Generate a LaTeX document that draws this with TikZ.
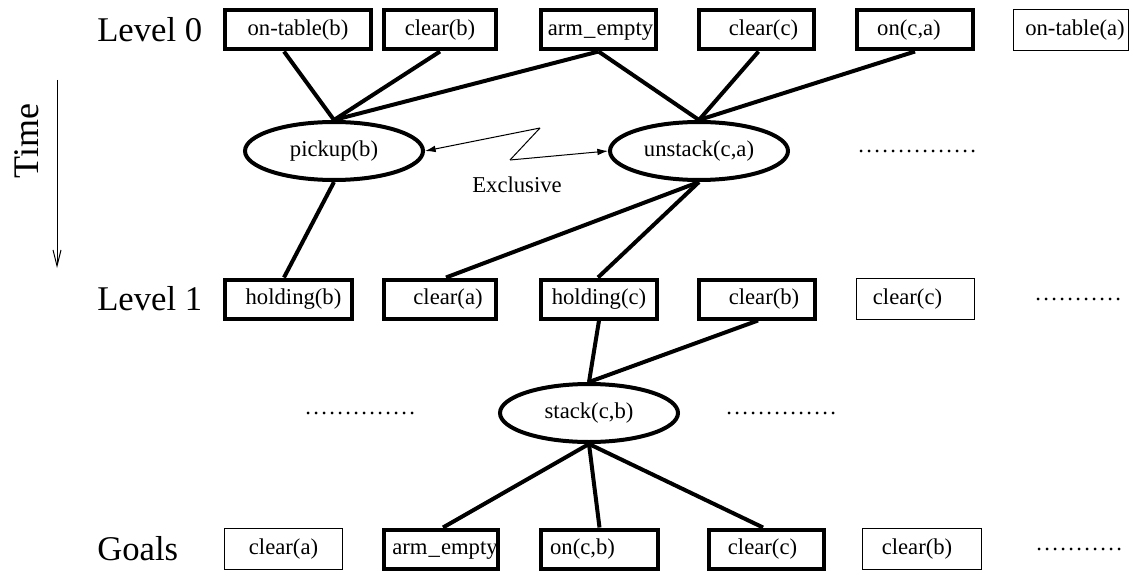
\documentclass[tikz,border=0pt]{standalone}
\usepackage{fontspec}
\setmainfont{Liberation Serif}
\usetikzlibrary{shapes.geometric,arrows.meta}
% shift a label sideways inside its box without changing the box width
\newcommand\txtshift[2]{\hspace*{#1}#2\hspace*{-#1}}
% one spaced dot of an elision row
\newcommand\pd{.\kern1.75pt}

\begin{document}
\begin{tikzpicture}[x=0.75pt,y=-0.75pt,
  fact/.style={draw, rectangle, line width=3pt, minimum height=29.25pt,
    inner sep=0pt, text height=12.5pt, text depth=3.8pt,
    font=\fontsize{17}{17}\selectfont},
  thinfact/.style={fact, line width=0.75pt, minimum height=30.75pt},
  act/.style={draw, ellipse, line width=3pt, minimum width=133.5pt,
    minimum height=43.5pt, inner sep=0pt, text height=12.5pt, text depth=3.8pt,
    font=\fontsize{17}{17}\selectfont},
  link/.style={line width=3pt},
  level/.style={anchor=west, inner sep=0pt, font=\fontsize{26}{26}\selectfont},
  more/.style={anchor=west, inner sep=0pt, font=\fontsize{17}{17}\selectfont},
  excl/.style={line width=0.75pt, -{Latex[length=8pt,width=5pt]}},
]
\useasboundingbox (0,0) rectangle (1130,577);

% time axis
\node[rotate=90, inner sep=0pt, font=\fontsize{27}{27}\selectfont] (time) at (27,141) {Time};
\coordinate (tstart) at (57,80);
\coordinate (tend) at (57,268);
\draw[line width=0.75pt, -{Straight Barb[length=12pt,width=6pt]}] (tstart) -- (tend);

% row labels
\node[level] (lv0) at (97,30) {Level 0};
\node[level] (lv1) at (97,299) {Level 1};
\node[level] (lvg) at (97,549) {Goals};

% level 0 facts
\node[fact, minimum width=109.5pt] (ontb) at (298,30) {on-table(b)};
\node[fact, minimum width=84pt] (clrb0) at (440,30) {clear(b)};
\node[fact, minimum width=86.25pt] (arm0) at (598.5,30) {\txtshift{1.5pt}{arm\kern0.8pt\_\kern0.8pt empty}};
\node[fact, minimum width=86.25pt] (clrc0) at (756.5,30) {\txtshift{5.25pt}{clear(c)}};
\node[fact, minimum width=87pt] (onca) at (915,30) {\txtshift{-4.5pt}{on(c,a)}};
\node[thinfact, minimum width=86.25pt] (onta) at (1071,30) {\txtshift{3pt}{on-table(a)}};

% actions
\node[act] (pickup) at (334,151) {pickup(b)};
\node[act] (unstack) at (699,151) {unstack(c,a)};
\node[more] (dots0) at (858,151) {\pd\pd\pd\pd\pd\pd\pd\pd\pd\pd\pd\pd\pd\pd.};

% mutual exclusion
\coordinate (zz1) at (540,128);
\coordinate (zz2) at (510,160);
\draw[excl] (zz1) -- (pickup.east);
\draw[line width=0.75pt] (zz1) -- (zz2);
\draw[excl] (zz2) -- (unstack.west);
\node[inner sep=0pt, font=\fontsize{17}{17}\selectfont] (exlab) at (517,185) {Exclusive};

% level 1 facts
\node[fact, minimum width=95.25pt] (holdb) at (288.5,299) {\txtshift{3.75pt}{holding(b)}};
\node[fact, minimum width=84pt] (clra1) at (440,299) {\txtshift{6pt}{clear(a)}};
\node[fact, minimum width=87pt] (holdc) at (599,299) {holding(c)};
\node[fact, minimum width=87pt] (clrb1) at (757,299) {\txtshift{5.25pt}{clear(b)}};
\node[thinfact, minimum width=88.5pt] (clrc1) at (915.5,299) {\txtshift{-6pt}{clear(c)}};
\node[more] (dots1) at (1035,299) {\pd\pd\pd\pd\pd\pd\pd\pd\pd\pd.};

% goal-level action
\node[act] (stack) at (589,413) {stack(c,b)};
\node[more] (dotsl) at (305,413) {\pd\pd\pd\pd\pd\pd\pd\pd\pd\pd\pd\pd\pd.};
\node[more] (dotsr) at (726,413) {\pd\pd\pd\pd\pd\pd\pd\pd\pd\pd\pd\pd\pd.};

% goals
\node[thinfact, minimum width=88.5pt] (clra2) at (283.5,549) {clear(a)};
\node[fact, minimum width=85.5pt] (arm2) at (441,549) {\txtshift{3pt}{arm\kern0.8pt\_\kern0.8pt empty}};
\node[fact, minimum width=87.75pt] (oncb) at (599.5,549) {\txtshift{-12.75pt}{on(c,b)}};
\node[fact, minimum width=86.25pt] (clrc2) at (766.5,549) {\txtshift{-3pt}{clear(c)}};
\node[thinfact, minimum width=89.25pt] (clrb2) at (922,549) {\txtshift{-3.75pt}{clear(b)}};
\node[more] (dotsg) at (1036,549) {\pd\pd\pd\pd\pd\pd\pd\pd\pd\pd.};

% preconditions and effects
\draw[link] ([xshift=-10.5pt]ontb.south) -- (pickup.north);
\draw[link] (clrb0.south) -- (pickup.north);
\draw[link] (arm0.south) -- (pickup.north);
\draw[link] (arm0.south) -- (unstack.north);
\draw[link] ([xshift=1.5pt]clrc0.south) -- (unstack.north);
\draw[link] (onca.south) -- (unstack.north);
\draw[link] (pickup.south) -- ([xshift=-3.4pt]holdb.north);
\draw[link] (unstack.south) -- ([xshift=4.5pt]clra1.north);
\draw[link] (unstack.south) -- ([xshift=-0.75pt]holdc.north);
\draw[link] (holdc.south) -- (stack.north);
\draw[link] ([xshift=0.75pt]clrb1.south) -- (stack.north);
\draw[link] (stack.south) -- ([xshift=1.5pt]arm2.north);
\draw[link] (stack.south) -- (oncb.north);
\draw[link] (stack.south) -- ([xshift=-2.6pt]clrc2.north);
\end{tikzpicture}
\end{document}
